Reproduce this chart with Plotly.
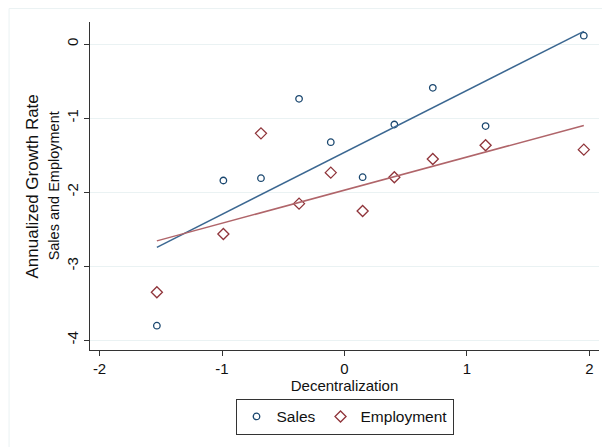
import plotly.graph_objects as go

# Data
decentralization = [-1.532, -0.989, -0.682, -0.371, -0.112, 0.148, 0.407, 0.721, 1.152, 1.954]
sales = [-3.806, -1.844, -1.813, -0.740, -1.326, -1.799, -1.087, -0.591, -1.109, 0.113]
employment = [-3.355, -2.567, -1.207, -2.157, -1.738, -2.256, -1.800, -1.553, -1.368, -1.427]

# Fitted-line values read at the ends of the x range
fit_x = [min(decentralization), max(decentralization)]
sales_fit = [-2.747, 0.172]
employment_fit = [-2.660, -1.100]

x_ticks = [-2, -1, 0, 1, 2]
y_ticks = [-4, -3, -2, -1, 0]

NAVY = "#1a476f"
MAROON = "#90353b"
NAVY_LINE = "#3b6791"
MAROON_LINE = "#b0656a"
GRID = "#eaf2f3"
FONT = "Liberation Sans, Arial, sans-serif"

fig = go.Figure()
fig.add_trace(go.Scatter(
    x=decentralization, y=sales, mode="markers", name="Sales",
    marker=dict(symbol="circle-open", size=6.5, color=NAVY, line=dict(width=1.3, color=NAVY)),
))
fig.add_trace(go.Scatter(
    x=decentralization, y=employment, mode="markers", name="Employment",
    marker=dict(symbol="diamond-open", size=8.5, color=MAROON, line=dict(width=1.3, color=MAROON)),
))
fig.add_trace(go.Scatter(
    x=fit_x, y=sales_fit, mode="lines", showlegend=False,
    line=dict(color=NAVY_LINE, width=1.5),
))
fig.add_trace(go.Scatter(
    x=fit_x, y=employment_fit, mode="lines", showlegend=False,
    line=dict(color=MAROON_LINE, width=1.5),
))

# The page adds an 8px body margin, so the figure is drawn 8px smaller and offset
fig.update_layout(
    width=602, height=439,
    margin=dict(l=82, r=11, t=14, b=97),
    paper_bgcolor="white", plot_bgcolor="white",
    font=dict(family=FONT, size=15, color="#111111"),
    showlegend=True,
    legend=dict(
        orientation="h", x=0.5, xanchor="center", y=-0.149, yanchor="top",
        bordercolor="#333333", borderwidth=1, font=dict(size=15.5),
        itemsizing="trace", itemwidth=30, tracegroupgap=0,
    ),
    xaxis=dict(
        range=[-2.078, 2.078], tickvals=x_ticks, ticktext=[str(v) for v in x_ticks],
        showgrid=False, zeroline=False, showline=True, linecolor="#333333", linewidth=1,
        ticks="outside", ticklen=5, tickcolor="#333333", tickfont=dict(size=15),
        title=dict(text="Decentralization", font=dict(size=15), standoff=1),
    ),
    yaxis=dict(
        range=[-4.135, 0.298], tickvals=y_ticks, ticktext=[str(v) for v in y_ticks],
        tickangle=-90, tickfont=dict(size=15),
        showgrid=True, gridcolor=GRID, gridwidth=1, zeroline=False,
        showline=True, linecolor="#333333", linewidth=1,
        ticks="outside", ticklen=5, tickcolor="#333333",
    ),
    shapes=[dict(
        type="rect", xref="paper", yref="paper",
        x0=-0.159, x1=1.1, y0=-0.5, y1=1.041,
        line=dict(color=GRID, width=1), fillcolor="rgba(0,0,0,0)", layer="below",
    )],
    annotations=[
        dict(text="Annualized Growth Rate", xref="paper", yref="paper",
             x=-0.113, y=0.5, textangle=-90, showarrow=False,
             font=dict(size=17), xanchor="center", yanchor="middle"),
        dict(text="Sales and Employment", xref="paper", yref="paper",
             x=-0.070, y=0.5, textangle=-90, showarrow=False,
             font=dict(size=14.5), xanchor="center", yanchor="middle"),
    ],
)

fig.write_html("out.html")
